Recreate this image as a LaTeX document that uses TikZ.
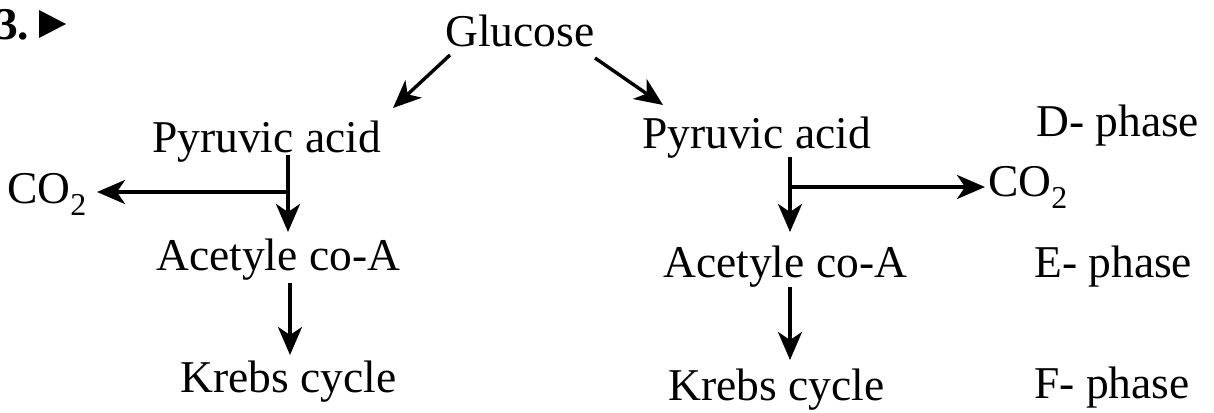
\documentclass[tikz,border=0pt]{standalone}
\usepackage{fontspec}
\setmainfont{Liberation Serif}
\usetikzlibrary{arrows.meta}
\newcommand{\bigfs}{\fontsize{45.5}{54}\selectfont}
\tikzset{
  lbl/.style={inner sep=0pt, anchor=base west, font=\bigfs},
  arr/.style={line width=3.4pt, -{Stealth[length=28pt,width=24pt,inset=8pt]}}
}
\begin{document}
\begin{tikzpicture}[x=1pt,y=-1pt]
\useasboundingbox[fill=white] (0,0) rectangle (1214,412);
% heading
\node[lbl, font=\bigfs\bfseries] (num) at (-5,40) {3.};
\fill (39,10) -- (66,24) -- (39,38) -- cycle;
% texts
\node[lbl] (g)  at (445,47)  {Glucose};
\node[lbl] (pl) at (152,152) {Pyruvic acid};
\node[lbl] (pr) at (642,148) {Pyruvic acid};
\node[lbl] (co2l) at (7,203) {CO\textsubscript{2}};
\node[lbl] (co2r) at (988,196) {CO\textsubscript{2}};
\node[lbl] (al) at (156,270) {Acetyle co-A};
\node[lbl] (ar) at (663,277) {Acetyle co-A};
\node[lbl] (kl) at (180,392) {Krebs cycle};
\node[lbl] (kr) at (668,400) {Krebs cycle};
\node[lbl] (dp) at (1036,136) {D- phase};
\node[lbl] (ep) at (1034,277) {E- phase};
\node[lbl] (fp) at (1034,398) {F- phase};
% connector end points
\coordinate (gl) at (450,55);   \coordinate (plin) at (393,108);
\coordinate (gr) at (595,58);   \coordinate (prin) at (663,105);
\coordinate (plout) at (288,155); \coordinate (alin) at (288,232);
\coordinate (jl) at (288,192);  \coordinate (co2lin) at (97,192);
\coordinate (prout) at (790,157); \coordinate (arin) at (790,232);
\coordinate (jr) at (790,187);  \coordinate (co2rin) at (985,187);
\coordinate (alout) at (290,283); \coordinate (klin) at (290,355);
\coordinate (arout) at (790,287); \coordinate (krin) at (790,360);
% connectors
\draw[arr] (gl) -- (plin);
\draw[arr] (gr) -- (prin);
\draw[arr] (plout) -- (alin);
\draw[arr] (jl) -- (co2lin);
\draw[arr] (prout) -- (arin);
\draw[arr] (jr) -- (co2rin);
\draw[arr] (alout) -- (klin);
\draw[arr] (arout) -- (krin);
\end{tikzpicture}
\end{document}
